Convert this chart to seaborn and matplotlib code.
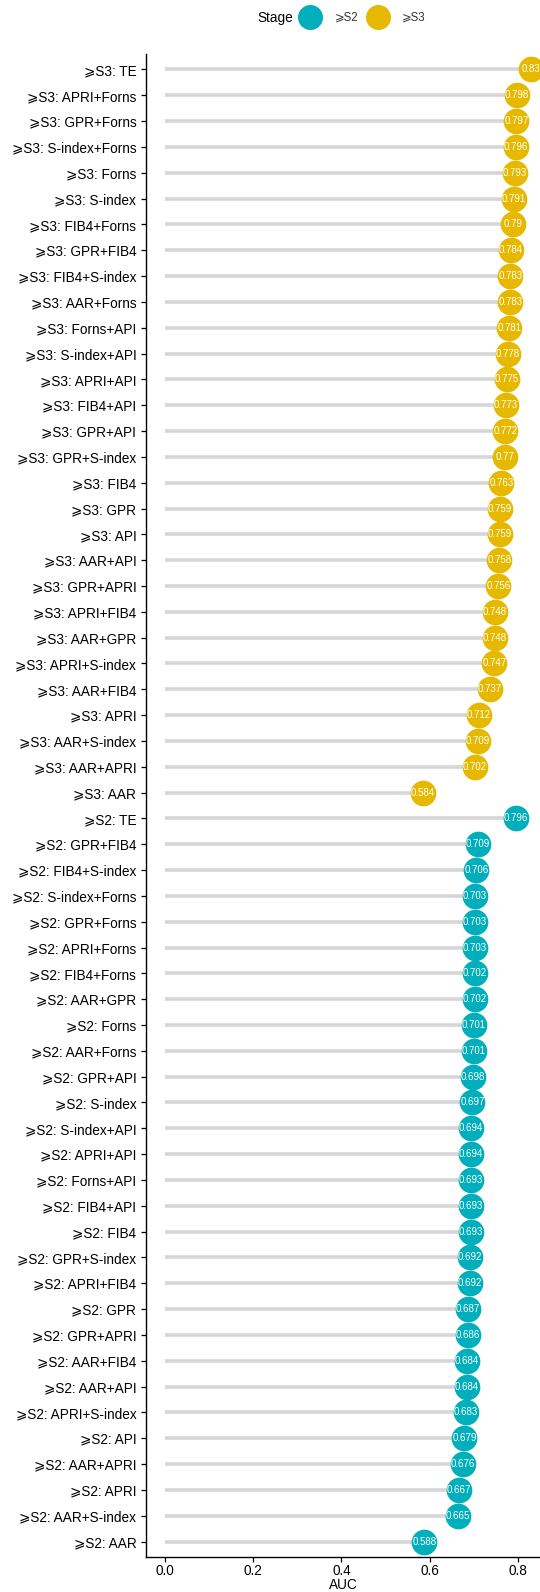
import numpy as np
import pandas as pd
import matplotlib
matplotlib.use("Agg")
import matplotlib.pyplot as plt
import seaborn as sns

sns.set_theme(style="ticks")
plt.rcParams['font.family'] = ['Liberation Sans', 'DejaVu Sans']

# ---- data (top to bottom) ----
s3_names = ["TE", "APRI+Forns", "GPR+Forns", "S-index+Forns", "Forns", "S-index",
            "FIB4+Forns", "GPR+FIB4", "FIB4+S-index", "AAR+Forns", "Forns+API",
            "S-index+API", "APRI+API", "FIB4+API", "GPR+API", "GPR+S-index", "FIB4",
            "GPR", "API", "AAR+API", "GPR+APRI", "APRI+FIB4", "AAR+GPR",
            "APRI+S-index", "AAR+FIB4", "APRI", "AAR+S-index", "AAR+APRI", "AAR"]
s3_auc = [0.83, 0.798, 0.797, 0.796, 0.793, 0.791, 0.79, 0.784, 0.783, 0.783, 0.781,
          0.778, 0.775, 0.773, 0.772, 0.77, 0.763, 0.759, 0.759, 0.758, 0.756, 0.748,
          0.748, 0.747, 0.737, 0.712, 0.709, 0.702, 0.584]

s2_names = ["TE", "GPR+FIB4", "FIB4+S-index", "S-index+Forns", "GPR+Forns",
            "APRI+Forns", "FIB4+Forns", "AAR+GPR", "Forns", "AAR+Forns", "GPR+API",
            "S-index", "S-index+API", "APRI+API", "Forns+API", "FIB4+API", "FIB4",
            "GPR+S-index", "APRI+FIB4", "GPR", "GPR+APRI", "AAR+FIB4", "AAR+API",
            "APRI+S-index", "API", "AAR+APRI", "APRI", "AAR+S-index", "AAR"]
s2_auc = [0.796, 0.709, 0.706, 0.703, 0.703, 0.703, 0.702, 0.702, 0.701, 0.701, 0.698,
          0.697, 0.694, 0.694, 0.693, 0.693, 0.693, 0.692, 0.692, 0.687, 0.686, 0.684,
          0.684, 0.683, 0.679, 0.676, 0.667, 0.665, 0.588]

stages = ["\u2a7eS2", "\u2a7eS3"]
colors = ["#00AFBB", "#E7B800"]

df = pd.DataFrame({
    "label": [stages[1] + ": " + n for n in s3_names] + [stages[0] + ": " + n for n in s2_names],
    "AUC": s3_auc + s2_auc,
    "Stage": [stages[1]] * len(s3_names) + [stages[0]] * len(s2_names),
})
n = len(df)

fig = plt.figure(figsize=(5.4, 15.92), dpi=100)
ax = fig.add_axes([146 / 540, 35 / 1592, 1 - 146 / 540, (1557 - 54) / 1592])

ax.hlines(y=np.arange(n), xmin=0, xmax=df["AUC"], color="#D6D6D6", linewidth=2.6, zorder=1)
sns.stripplot(data=df, x="AUC", y="label", hue="Stage", hue_order=stages,
              palette=colors, jitter=False, size=18.5, linewidth=0, orient="h",
              ax=ax, zorder=3, legend=True)
for i, v in enumerate(df["AUC"]):
    ax.text(v, i, f"{v:g}", ha="center", va="center", color="white",
            fontsize=7, zorder=4, clip_on=False)

ax.set_xlim(-0.0431, 0.8503)
ax.set_ylim(n - 1 + 0.6, -0.6)
ax.set_xticks([0.0, 0.2, 0.4, 0.6, 0.8])
ax.set_xticklabels(["0.0", "0.2", "0.4", "0.6", "0.8"])
ax.set_xlabel("AUC", fontsize=9.8, color="black", labelpad=0)
ax.set_ylabel("")
ax.tick_params(axis="both", labelsize=9.8, colors="black", length=3.5, width=0.9)
ax.tick_params(axis="x", pad=1.5)
for s in ["top", "right"]:
    ax.spines[s].set_visible(False)
for s in ["left", "bottom"]:
    ax.spines[s].set_color("black")
    ax.spines[s].set_linewidth(1.0)

handles, labels = ax.get_legend_handles_labels()
for h in handles:
    try:
        h.set_markersize(18)
    except AttributeError:
        h.set_sizes([324])
ax.legend(handles, labels, loc="center", bbox_to_anchor=(362 / 540, 1 - 18 / 1592),
          bbox_transform=fig.transFigure, ncol=2, frameon=False, fontsize=8.3,
          handlelength=2.0, handletextpad=1.1, columnspacing=0.7, labelcolor="#333333")
fig.text(275 / 540, 1 - 18 / 1592, "Stage", ha="center", va="center", fontsize=9.8, color="black")

fig.savefig("out.png", dpi=100)
